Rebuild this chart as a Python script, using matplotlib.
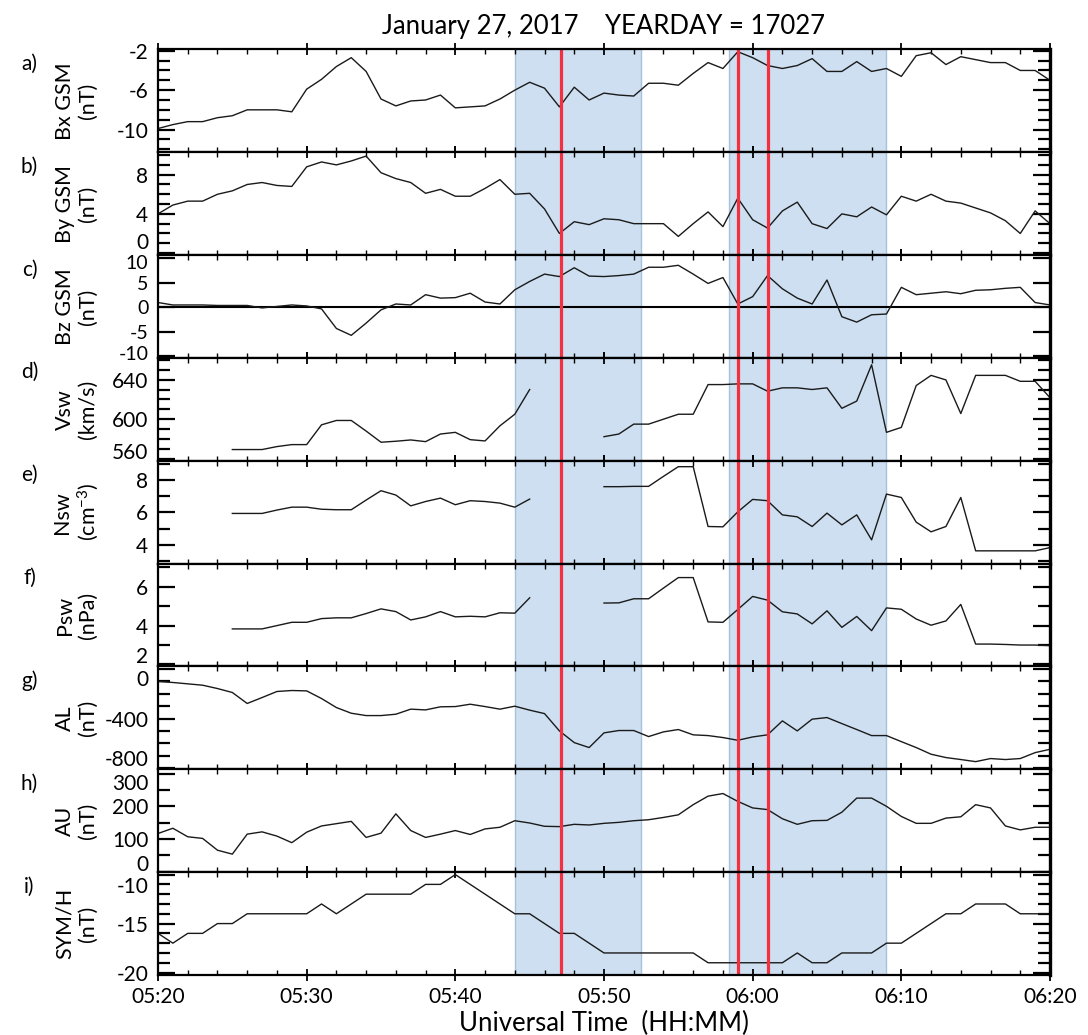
import matplotlib
matplotlib.use("Agg")
import matplotlib.pyplot as plt
import matplotlib.transforms as mtransforms
import numpy as np

nan = np.nan

# 1-minute samples, minutes after 05:20 UT
minutes = np.arange(0, 61)
time_ticks = [0, 10, 20, 30, 40, 50, 60]
time_labels = ["05:20", "05:30", "05:40", "05:50", "06:00", "06:10", "06:20"]

bx_gsm = [-9.9, -9.5, -9.2, -9.2, -8.8, -8.6, -8.0, -8.0, -8.0, -8.2,
          -5.9, -4.9, -3.6, -2.7, -4.1, -6.9, -7.6, -7.1, -7.0, -6.5,
          -7.8, -7.7, -7.6, -6.9, -6.0, -5.2, -5.8, -7.7, -5.7, -7.0,
          -6.3, -6.5, -6.6, -5.3, -5.3, -5.5, -4.3, -3.2, -3.8, -2.1,
          -2.7, -3.5, -3.8, -3.5, -2.8, -4.1, -4.1, -3.1, -4.1, -3.8,
          -4.6, -2.5, -2.2, -3.4, -2.6, -2.9, -3.2, -3.2, -4.0, -4.0,
          -5.0]
by_gsm = [4.0, 4.9, 5.3, 5.3, 6.0, 6.35, 7.0, 7.2, 6.9, 6.8,
          8.8, 9.3, 9.0, 9.4, 9.9, 8.2, 7.6, 7.2, 6.1, 6.5,
          5.8, 5.8, 6.6, 7.5, 6.0, 6.1, 4.5, 2.0, 3.2, 2.9,
          3.5, 3.4, 3.0, 3.0, 3.0, 1.7, 3.0, 4.2, 2.7, 5.6,
          3.4, 2.55, 4.3, 5.2, 3.0, 2.5, 4.0, 3.7, 4.7, 3.9,
          5.8, 5.3, 6.0, 5.3, 5.1, 4.6, 4.1, 3.3, 2.0, 4.3,
          3.0]
bz_gsm = [1.0, 0.5, 0.5, 0.5, 0.4, 0.4, 0.4, -0.1, 0.2, 0.5,
          0.3, -0.3, -4.3, -5.7, -3.2, -0.5, 0.7, 0.5, 2.6, 1.9,
          2.0, 2.9, 1.1, 0.7, 3.6, 5.3, 6.8, 6.3, 8.1, 6.4,
          6.3, 6.5, 6.8, 8.2, 8.2, 8.6, 6.8, 4.9, 6.1, 0.7,
          2.2, 6.5, 3.8, 1.9, 0.7, 5.6, -1.9, -3.0, -1.5, -1.35,
          4.1, 2.6, 2.9, 3.2, 2.8, 3.5, 3.6, 3.9, 4.1, 1.0,
          0.5]
vsw = [nan, nan, nan, nan, nan,
       569.3, 569.3, 569.3, 572.3, 574.3,
       574.3, 594.3, 598.7, 598.7, 588.0, 576.7, 577.7, 579.0, 577.3, 585.0,
       586.7, 579.3, 578.0, 593.3, 605.0, 630.0, nan, nan, nan, nan,
       582.3, 585.0, 595.0, 595.0, 600.0, 605.0, 605.0, 635.0, 635.0, 635.7,
       635.7, 628.3, 631.7, 631.7, 630.0, 631.7, 611.0, 618.3, 655.0, 586.7,
       591.7, 634.0, 644.3, 639.7, 605.7, 644.3, 644.3, 644.3, 638.3, 638.3,
       621.7]
nsw = [nan, nan, nan, nan, nan,
       5.94, 5.94, 5.94, 6.15, 6.33,
       6.33, 6.20, 6.17, 6.17, 6.77, 7.35, 7.08, 6.41, 6.68, 6.89,
       6.48, 6.73, 6.68, 6.58, 6.33, 6.83, nan, nan, nan, nan,
       7.60, 7.60, 7.62, 7.62, 8.24, 8.84, 8.84, 5.13, 5.11, 6.04,
       6.81, 6.73, 5.85, 5.73, 5.13, 5.96, 5.23, 5.85, 4.30, 7.14,
       6.93, 5.40, 4.80, 5.13, 6.93, 3.62, 3.62, 3.62, 3.62, 3.62,
       3.82]
psw = [nan, nan, nan, nan, nan,
       3.83, 3.83, 3.83, 4.00, 4.17,
       4.17, 4.36, 4.40, 4.40, 4.62, 4.86, 4.72, 4.29, 4.45, 4.72,
       4.45, 4.48, 4.45, 4.66, 4.64, 5.43, nan, nan, nan, nan,
       5.16, 5.17, 5.38, 5.38, 5.93, 6.47, 6.47, 4.19, 4.17, 4.83,
       5.50, 5.31, 4.71, 4.60, 4.09, 4.76, 3.91, 4.47, 3.74, 4.91,
       4.84, 4.34, 4.02, 4.24, 5.09, 3.05, 3.05, 3.03, 3.00, 3.00,
       2.97]
al_index = [-100, -108, -119, -130, -157, -189, -278, -230, -181, -173,
            -176, -238, -311, -357, -376, -376, -365, -324, -330, -305,
            -303, -284, -303, -324, -300, -332, -360, -500, -595, -635,
            -516, -497, -497, -546, -508, -489, -532, -538, -554, -576,
            -549, -532, -419, -500, -405, -392, -441, -489, -538, -538,
            -587, -635, -689, -716, -732, -749, -724, -732, -724, -676,
            -649]
au_index = [117, 133, 107, 102, 66, 54, 115, 122, 109, 89,
            121, 140, 147, 154, 105, 118, 177, 126, 105, 115,
            126, 114, 131, 136, 156, 149, 139, 138, 145, 143,
            148, 151, 156, 159, 166, 174, 205, 231, 239, 215,
            195, 190, 162, 145, 156, 157, 182, 225, 225, 200,
            169, 148, 148, 164, 168, 205, 195, 140, 128, 136,
            136]
sym_h = [-16, -17, -16, -16, -15, -15, -14, -14, -14, -14,
         -14, -13, -14, -13, -12, -12, -12, -12, -11, -11,
         -10, -11, -12, -13, -14, -14, -15, -16, -16, -17,
         -18, -18, -18, -18, -18, -18, -18, -19, -19, -19,
         -19, -19, -19, -18, -19, -19, -18, -18, -18, -17,
         -17, -16, -15, -14, -14, -13, -13, -13, -14, -14,
         -14]

shade_spans = [(24.03, 32.46), (38.42, 48.96)]
event_times = [27.13, 39.02, 41.03]

# letter, label, series, ylim, major ticks, minor ticks,
# nudges (px, up positive) for tick labels sitting on the panel edges
panels = [
    ("a)", "Bx GSM\n(nT)", bx_gsm, (-12.3, -1.85), [-10, -6, -2], np.arange(-12, -1, 1), {}),
    ("b)", "By GSM\n(nT)", by_gsm, (-0.2, 10.3), [0, 4, 8], np.arange(0, 11, 1), {0: 12}),
    ("c)", "Bz GSM\n(nT)", bz_gsm, (-10.3, 10.7), [-10, -5, 0, 5, 10], [], {10: -4, -10: 3}),
    ("d)", "Vsw\n(km/s)", vsw, (558, 662), [560, 600, 640], np.arange(560, 661, 10), {560: 8}),
    ("e)", "Nsw\n(cm$^{-3}$)", nsw, (2.83, 9.21), [4, 6, 8], np.arange(3, 10, 1), {}),
    ("f)", "Psw\n(nPa)", psw, (1.9, 7.19), [2, 4, 6], np.arange(2, 8, 1), {2: 9}),
    ("g)", "AL\n(nT)", al_index, (-811, 22), [-800, -400, 0], np.arange(-800, 1, 100), {0: -9, -800: 10}),
    ("h)", "AU\n(nT)", au_index, (-1, 313), [0, 100, 200, 300], np.arange(0, 301, 50), {300: -8, 0: 9}),
    ("i)", "SYM/H\n(nT)", sym_h, (-20.25, -9.75), [-20, -15, -10], np.arange(-20, -9, 1), {-10: -10}),
]

plt.rcParams["font.family"] = ["Lato", "DejaVu Sans"]
plt.rcParams["mathtext.default"] = "regular"
plt.rcParams["axes.unicode_minus"] = False

W, H = 1088, 1035
fig = plt.figure(figsize=(W / 100, H / 100), dpi=100)

left_px, right_px = 158, 1050
top_px, bottom_px = 49.3, 975.0
panel_h = (bottom_px - top_px) / len(panels)

shade_face = "#cddff0"
shade_edge = "#a9c2dc"
red = "#f2303f"

for i, (letter, label, series, ylim, major, minor, nudges) in enumerate(panels):
    y_top = top_px + i * panel_h
    ax = fig.add_axes([left_px / W, 1 - (y_top + panel_h) / H,
                       (right_px - left_px) / W, panel_h / H])

    for x0, x1 in shade_spans:
        ax.axvspan(x0, x1, facecolor=shade_face, edgecolor=shade_edge, lw=1.0, zorder=0)

    if letter == "c)":
        ax.axhline(0, color="black", lw=1.5, zorder=1.5)

    ax.plot(minutes, series, color="#1a1a1a", lw=1.0, zorder=2)

    for t in event_times:
        ax.axvline(t, color=red, lw=2.3, zorder=2.2)

    ax.set_xlim(0, 60)
    ax.set_ylim(*ylim)

    ax.set_xticks(time_ticks)
    ax.set_xticks(np.arange(0, 61, 2), minor=True)
    ax.tick_params(axis="x", which="major", direction="inout", length=9, width=1.3,
                   top=True, bottom=True, labelsize=15, pad=4)
    ax.tick_params(axis="x", which="minor", direction="in", length=3.5, width=1.0,
                   top=True, bottom=True)
    if i == len(panels) - 1:
        ax.set_xticklabels(time_labels)
    else:
        ax.tick_params(axis="x", labelbottom=False)

    ax.set_yticks(major)
    ax.set_yticks(minor, minor=True)
    ax.tick_params(axis="y", which="major", direction="in", length=12, width=1.6,
                   left=True, right=True, labelsize=14 if letter == "c)" else 15, pad=7)
    ax.tick_params(axis="y", which="minor", direction="in", length=8.5, width=1.6,
                   left=True, right=True)
    for val, lab in zip(major, ax.get_yticklabels()):
        if val in nudges:
            shift = mtransforms.ScaledTranslation(0, nudges[val] / 100, fig.dpi_scale_trans)
            lab.set_transform(lab.get_transform() + shift)

    for side in ("left", "top", "bottom"):
        ax.spines[side].set_linewidth(1.6)
    ax.spines["right"].set_linewidth(2.4)

    ax.text(-0.0915, 0.5, label, transform=ax.transAxes, rotation=90,
            ha="center", va="center", fontsize=15.5, multialignment="center",
            linespacing=1.2)
    ax.text(-0.144, 0.86, letter, transform=ax.transAxes,
            ha="center", va="center", fontsize=15)

    if i == 0:
        ax.set_title("January 27, 2017    YEARDAY = 17027", fontsize=18.5, pad=11)
    if i == len(panels) - 1:
        ax.set_xlabel("Universal Time  (HH:MM)", fontsize=18.5, labelpad=3)

fig.savefig("out.png", dpi=100)
plt.close(fig)
